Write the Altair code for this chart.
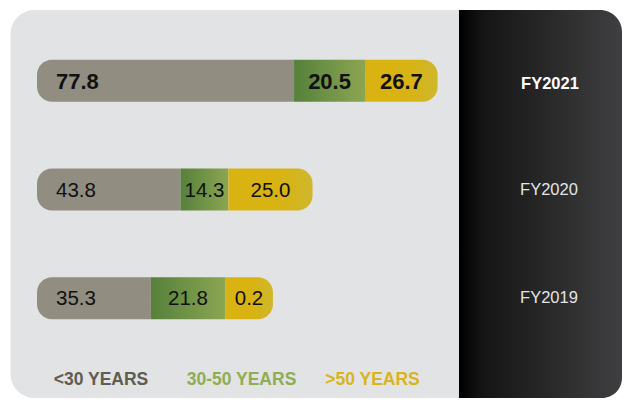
import altair as alt
import pandas as pd

# ---- data ----
years = ["FY2021", "FY2020", "FY2019"]
groups = ["<30 YEARS", "30-50 YEARS", ">50 YEARS"]
group_colors = ["#5f5c52", "#8fad52", "#d9b41c"]

under30 = [77.8, 43.8, 35.3]
from30to50 = [20.5, 14.3, 21.8]
over50 = [26.7, 25.0, 0.2]

# drawn segment lengths (the picture is not to scale)
len_under30 = [77.9, 43.5, 34.5]
len_30to50 = [21.5, 14.5, 22.5]
len_over50 = [22.0, 25.5, 14.5]

# ---- build table ----
rows = []
for i, yr in enumerate(years):
    start = 0.0
    for seg, val, ln in zip(["u30", "m", "o50"],
                            [under30[i], from30to50[i], over50[i]],
                            [len_under30[i], len_30to50[i], len_over50[i]]):
        rows.append(dict(year=yr, seg=seg, value=val, label=f"{val:.1f}",
                         start=start, end=start + ln, mid=start + ln / 2,
                         bold=(i == 0)))
        start += ln
df = pd.DataFrame(rows)

FONT = "Liberation Sans"
W, H = 614, 390
xscale = alt.Scale(domain=[0, 100], range=[29, 359])
yscale = alt.Scale(domain=years, range=[18.5, 344.5], paddingInner=0, paddingOuter=0)

X = lambda f: alt.X(f"{f}:Q", scale=xscale, axis=None)
Y = alt.Y("year:N", scale=yscale, axis=None)

one = pd.DataFrame({"a": [0]})

light = alt.Chart(one).mark_rect(color="#e2e3e5", cornerRadius=24).encode(
    x=alt.value(2.5), x2=alt.value(480), y=alt.value(2), y2=alt.value(H))

dark = alt.Chart(one).mark_rect(
    cornerRadiusTopRight=22, cornerRadiusBottomRight=20,
    color=alt.Gradient(gradient="linear", x1=0, x2=1, y1=0, y2=0,
                       stops=[alt.GradientStop(color="#000000", offset=0),
                              alt.GradientStop(color="#151515", offset=0.15),
                              alt.GradientStop(color="#3f3f41", offset=1)])
).encode(x=alt.value(451), x2=alt.value(W), y=alt.value(2), y2=alt.value(H))

base = alt.Chart(df)

gray_bar = base.transform_filter("datum.seg == 'u30'").mark_bar(
    height=42, color="#918d81", cornerRadiusTopLeft=15, cornerRadiusBottomLeft=15
).encode(x=X("start"), x2="end:Q", y=Y)

green_bar = base.transform_filter("datum.seg == 'm'").mark_bar(
    height=42,
    color=alt.Gradient(gradient="linear", x1=0, x2=1, y1=0, y2=0,
                       stops=[alt.GradientStop(color="#56803b", offset=0),
                              alt.GradientStop(color="#8ba652", offset=1)])
).encode(x=X("start"), x2="end:Q", y=Y)

yellow_bar = base.transform_filter("datum.seg == 'o50'").mark_bar(
    height=42, cornerRadiusTopRight=15, cornerRadiusBottomRight=15,
    color=alt.Gradient(gradient="linear", x1=0, x2=1, y1=0, y2=0,
                       stops=[alt.GradientStop(color="#dab312", offset=0),
                              alt.GradientStop(color="#d8b313", offset=0.6),
                              alt.GradientStop(color="#cfb72c", offset=1)])
).encode(x=X("start"), x2="end:Q", y=Y)


def labels(bold):
    flt = "datum.bold" if bold else "!datum.bold"
    size = 22 if bold else 20.5
    weight = "bold" if bold else "normal"
    left = base.transform_filter(flt).transform_filter("datum.seg == 'u30'").mark_text(
        font=FONT, fontSize=size, fontWeight=weight, color="#111111",
        align="left", baseline="middle", dx=19, dy=1
    ).encode(x=X("start"), y=Y, text="label:N")
    mid = base.transform_filter(flt).transform_filter("datum.seg != 'u30'").mark_text(
        font=FONT, fontSize=size, fontWeight=weight, color="#111111",
        align="center", baseline="middle", dy=1
    ).encode(x=X("mid"), y=Y, text="label:N")
    return left + mid


yr_df = pd.DataFrame({"year": years, "bold": [True, False, False]})
yr_bold = alt.Chart(yr_df).transform_filter("datum.bold").mark_text(
    font=FONT, fontSize=16.5, fontWeight="bold", color="#ffffff",
    align="center", baseline="middle", dy=3
).encode(x=alt.value(542), y=Y, text="year:N")
yr_reg = alt.Chart(yr_df).transform_filter("!datum.bold").mark_text(
    font=FONT, fontSize=16.5, color="#e4e4e4", align="center", baseline="middle"
).encode(x=alt.value(541), y=Y, text="year:N")

legend_x = [93, 233.5, 364.5]
legend_layers = []
for g, c, lx in zip(groups, group_colors, legend_x):
    legend_layers.append(
        alt.Chart(pd.DataFrame({"t": [g]})).mark_text(
            font=FONT, fontSize=17.5, fontWeight="bold", color=c,
            align="center", baseline="middle"
        ).encode(x=alt.value(lx), y=alt.value(371.5), text="t:N")
    )

chart = alt.layer(
    light, dark, gray_bar, green_bar, yellow_bar,
    labels(True), labels(False), yr_bold, yr_reg, *legend_layers
).properties(
    width=W, height=H, padding=0, autosize="none", background="#ffffff"
).configure_view(stroke=None)

chart.save("out.html", embed_options={"renderer": "svg", "actions": False})
